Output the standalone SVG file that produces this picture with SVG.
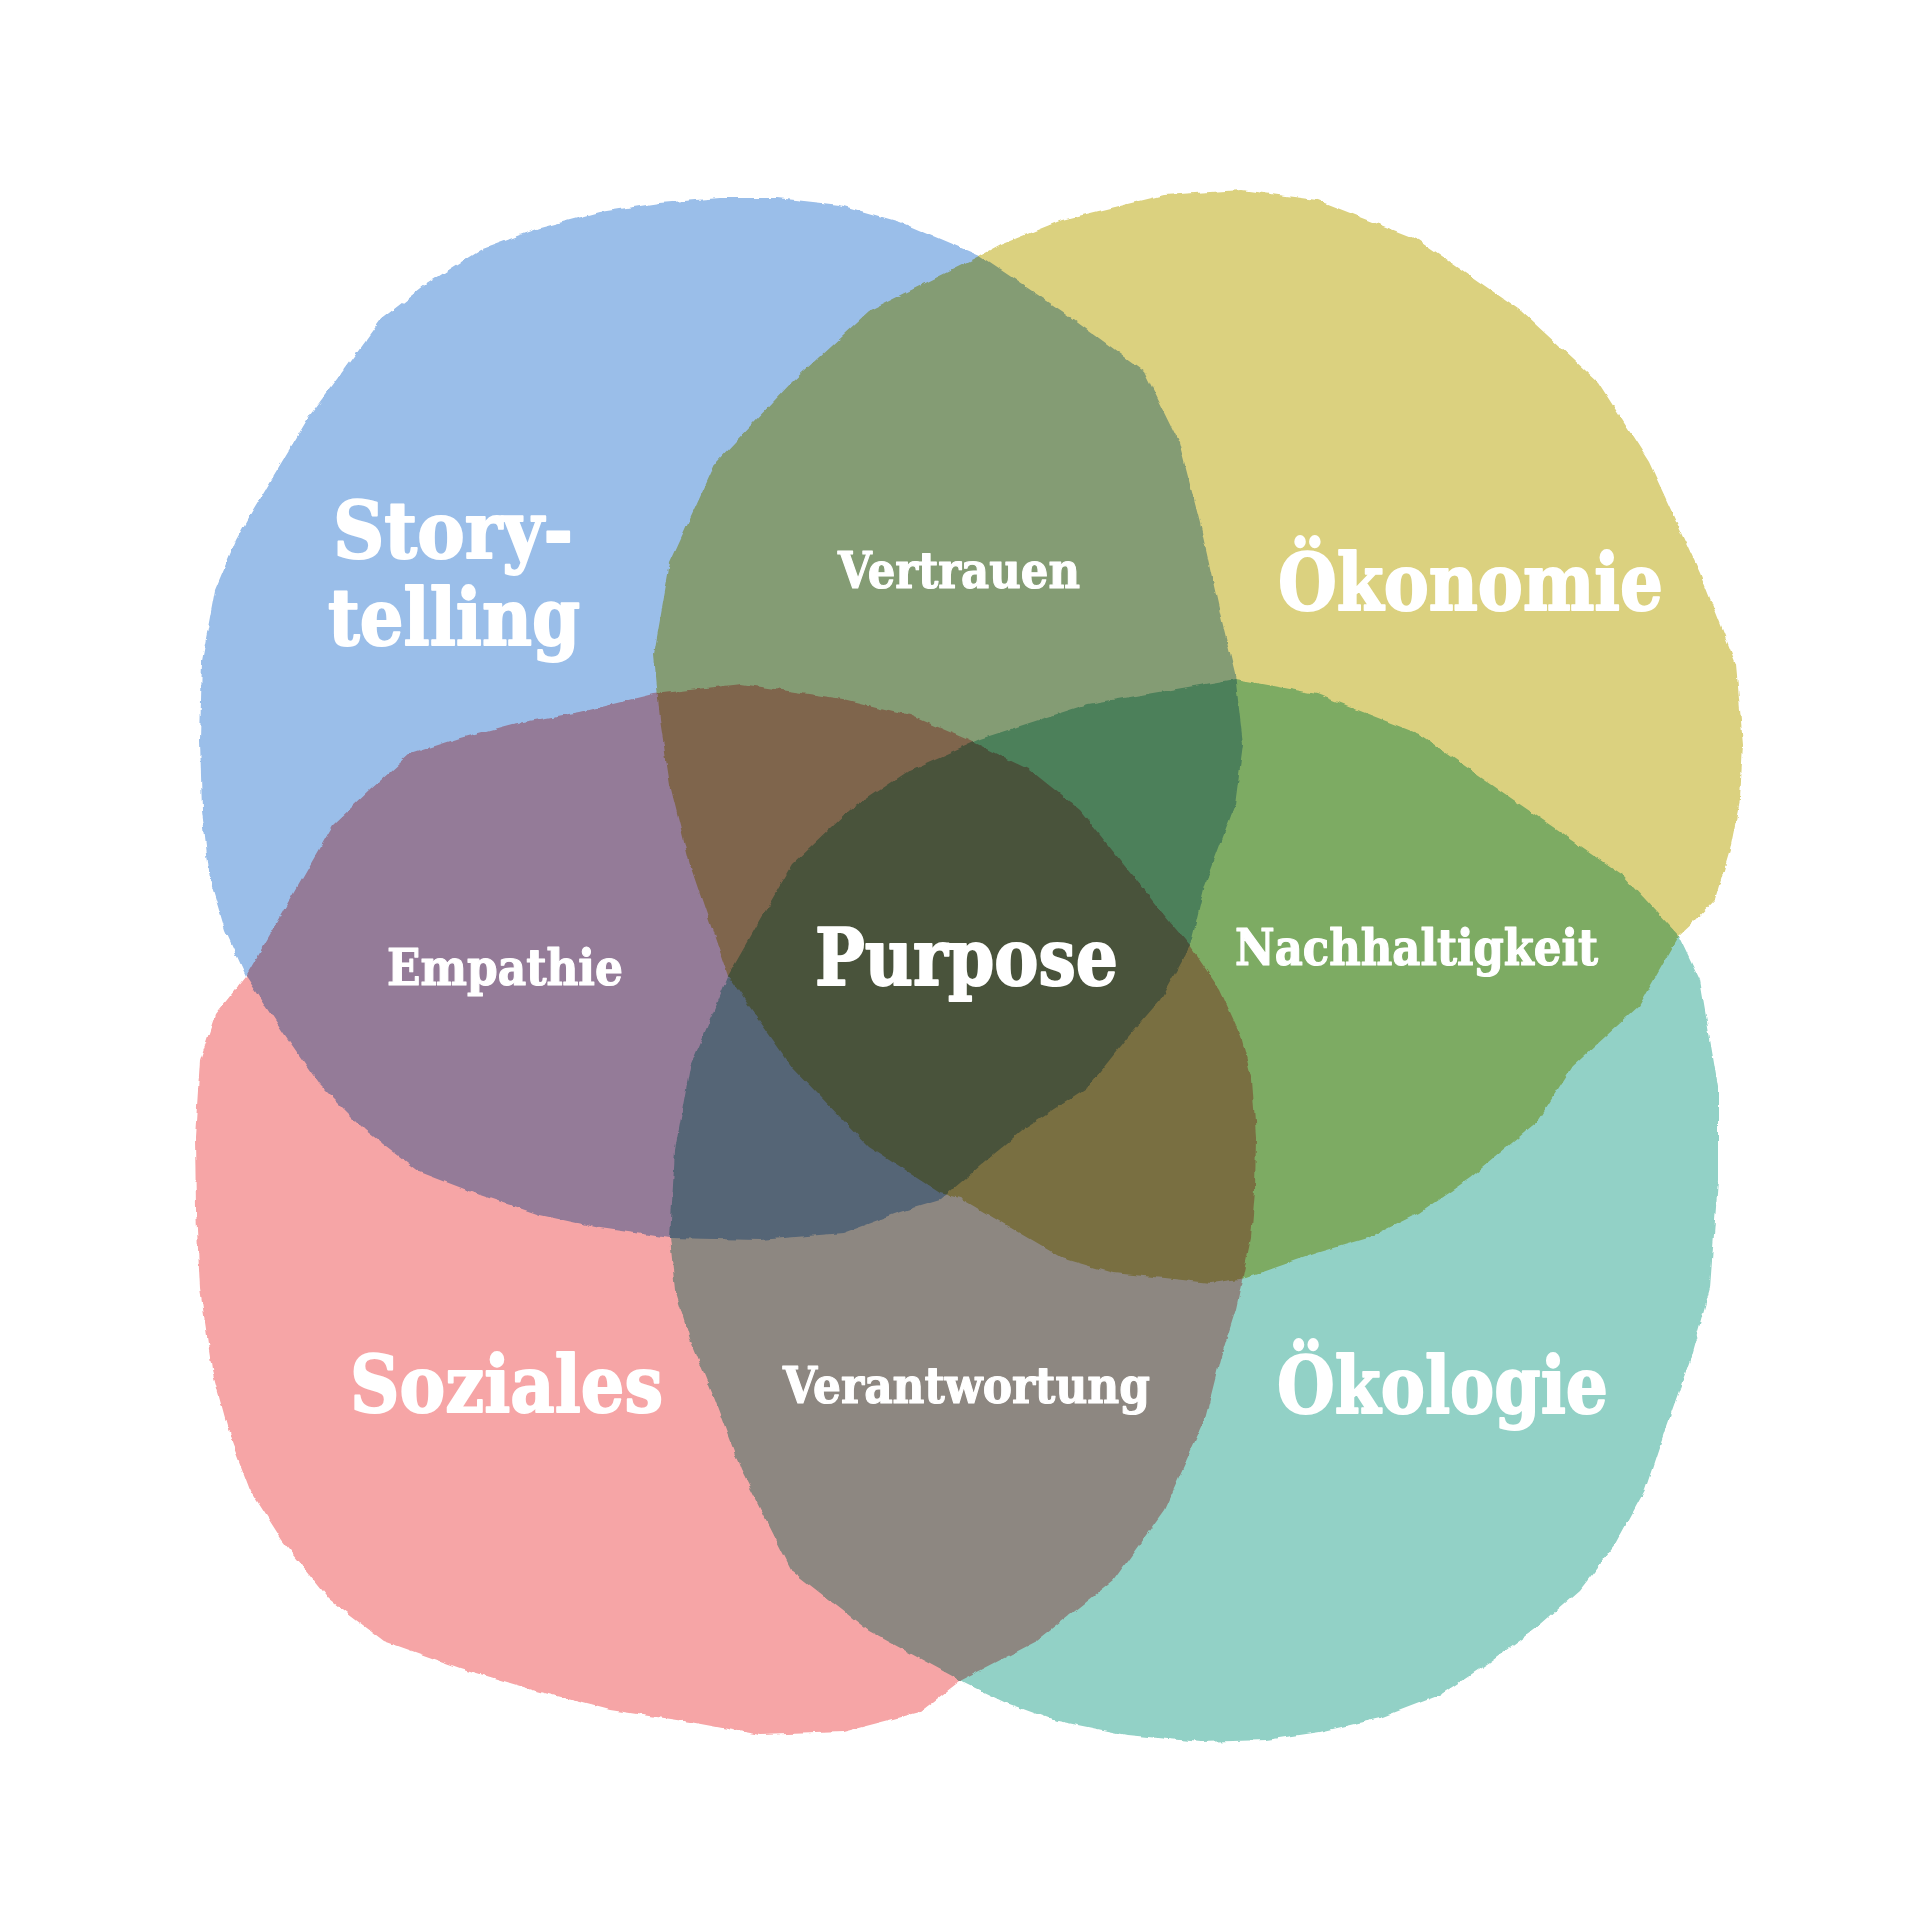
<svg xmlns="http://www.w3.org/2000/svg" width="1920" height="1920" viewBox="0 0 1920 1920">
<style>
.blob{mix-blend-mode:multiply;filter:url(#rough)}
.lbl{font-family:"DejaVu Serif","Liberation Serif",serif;font-weight:bold;fill:#ffffff;stroke:#ffffff;stroke-linejoin:round}
.big{font-size:78px;stroke-width:2}
.small{font-size:50px;stroke-width:1.2}
</style>
<defs>
<filter id="rough" filterUnits="userSpaceOnUse" x="0" y="0" width="1920" height="1920">
<feTurbulence type="fractalNoise" baseFrequency="0.08" numOctaves="3" seed="4" result="n"/>
<feDisplacementMap in="SourceGraphic" in2="n" scale="5" xChannelSelector="R" yChannelSelector="G"/>
</filter>
</defs>
<rect x="0" y="0" width="1920" height="1920" fill="#ffffff"/>
<g id="blobs" style="isolation:isolate">
<g id="storytelling" class="blob">
<polygon fill="#9abee9" points="777,198 840,205 900,222 980,256 1062,311 1144,371 1179,442 1200,523 1220,613 1235,674 1243,744 1235,805 1205,885 1190,946 1160,1000 1128,1037 1088,1087 1026,1127 960,1183 940,1200 900,1212 843,1233 760,1240 670,1238 600,1228 540,1215 480,1195 420,1172 365,1130 320,1085 285,1035 246,976 225,930 210,880 202,810 200,740 202,660 215,590 236,540 251,513 280,465 310,415 343,371 380,320 425,285 480,250 540,228 600,212 660,203 720,198"/>
</g>
<g id="oekonomie" class="blob">
<polygon fill="#dbd17f" points="1000,245 980,256 869,311 792,382 716,462 670,563 654,654 660,720 670,785 690,865 728,976 792,1067 869,1147 940,1193 960,1198 1011,1228 1062,1258 1113,1273 1164,1278 1210,1283 1246,1278 1317,1253 1368,1238 1419,1213 1470,1178 1537,1122 1572,1067 1639,1006 1679,936 1695,921 1715,900 1730,850 1740,800 1743,744 1736,664 1700,573 1649,462 1598,382 1521,311 1419,240 1317,200 1241,190 1164,195 1062,220"/>
</g>
<g id="soziales" class="blob">
<polygon fill="#f6a5a6" points="246,976 290,900 333,825 370,790 410,754 460,738 512,724 580,712 654,694 741,684 843,699 910,715 966,739 1030,770 1080,810 1120,860 1160,910 1190,946 1220,990 1241,1036 1252,1080 1256,1137 1255,1190 1251,1238 1236,1309 1220,1360 1205,1419 1164,1510 1113,1581 1037,1641 960,1681 920,1712 843,1732 760,1735 690,1722 610,1710 537,1691 460,1668 384,1641 330,1600 282,1540 250,1490 231,1440 212,1370 200,1288 196,1210 195,1137 200,1060 215,1015"/>
</g>
<g id="oekologie" class="blob">
<polygon fill="#92d1c6" points="980,739 1088,704 1235,679 1317,694 1419,734 1521,805 1623,875 1679,936 1700,980 1718,1087 1718,1180 1710,1288 1690,1360 1665,1430 1645,1490 1615,1545 1580,1590 1540,1625 1490,1662 1440,1695 1380,1718 1320,1732 1266,1740 1200,1742 1127,1735 1053,1720 1004,1702 967,1684 869,1631 792,1571 741,1470 715,1400 690,1339 675,1290 670,1238 675,1150 690,1067 710,1020 728,976 760,920 792,865 850,810 910,770"/>
</g>
</g>
<g id="labels">
<text class="lbl big" x="333" y="558" textLength="240" lengthAdjust="spacingAndGlyphs">Story-</text>
<text class="lbl big" x="328" y="645" textLength="252" lengthAdjust="spacingAndGlyphs">telling</text>
<text class="lbl small" x="838" y="588" textLength="242" lengthAdjust="spacingAndGlyphs">Vertrauen</text>
<text class="lbl big" x="1278" y="610" textLength="385" lengthAdjust="spacingAndGlyphs">Ökonomie</text>
<text class="lbl small" x="387" y="985" textLength="236" lengthAdjust="spacingAndGlyphs">Empathie</text>
<text class="lbl big" x="815" y="985" textLength="303" lengthAdjust="spacingAndGlyphs">Purpose</text>
<text class="lbl small" x="1235" y="965" textLength="363" lengthAdjust="spacingAndGlyphs">Nachhaltigkeit</text>
<text class="lbl big" x="350" y="1412" textLength="313" lengthAdjust="spacingAndGlyphs">Soziales</text>
<text class="lbl small" x="783" y="1403" textLength="367" lengthAdjust="spacingAndGlyphs">Verantwortung</text>
<text class="lbl big" x="1277" y="1413" textLength="331" lengthAdjust="spacingAndGlyphs">Ökologie</text>
</g>
</svg>
